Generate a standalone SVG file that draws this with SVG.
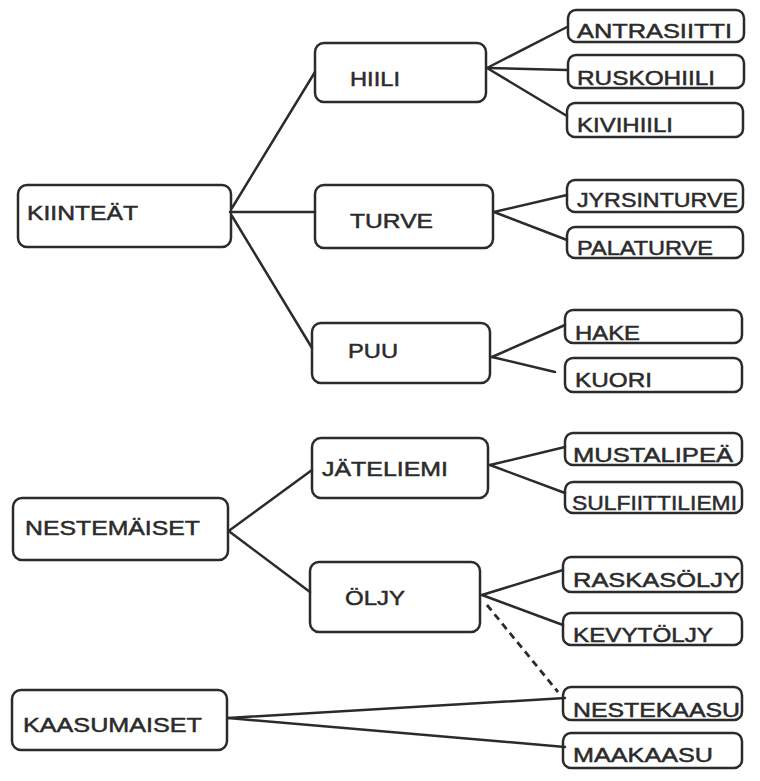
<svg xmlns="http://www.w3.org/2000/svg" width="760" height="781" viewBox="0 0 760 781">
<style>
.b{fill:none;stroke:#2b2b2b;stroke-width:2.5}
.c{fill:none;stroke:#2b2b2b;stroke-width:2.5;stroke-linecap:round}
.d{fill:none;stroke:#2b2b2b;stroke-width:2.8;stroke-dasharray:7 5}
text{font-family:"Liberation Sans",Arial,sans-serif;font-size:21px;fill:#2b2b2b;stroke:#2b2b2b;stroke-width:0.5}
</style>
<rect width="760" height="781" fill="#ffffff"/>
<g id="connectors">
<line class="c" x1="232" y1="208" x2="315" y2="72"/>
<line class="c" x1="230" y1="212" x2="315" y2="212"/>
<line class="c" x1="232" y1="216" x2="312" y2="348"/>
<line class="c" x1="487" y1="68" x2="567" y2="27"/>
<line class="c" x1="487" y1="68" x2="567" y2="70"/>
<line class="c" x1="487" y1="68" x2="567" y2="116"/>
<line class="c" x1="494" y1="212" x2="567" y2="195"/>
<line class="c" x1="494" y1="212" x2="567" y2="240"/>
<line class="c" x1="492" y1="357" x2="565" y2="325"/>
<line class="c" x1="492" y1="357" x2="555" y2="372"/>
<line class="c" x1="490" y1="465" x2="565" y2="447"/>
<line class="c" x1="490" y1="465" x2="565" y2="493"/>
<line class="c" x1="230" y1="530" x2="312" y2="470"/>
<line class="c" x1="230" y1="532" x2="310" y2="592"/>
<line class="c" x1="482" y1="595" x2="563" y2="570"/>
<line class="c" x1="482" y1="595" x2="563" y2="625"/>
<line class="d" x1="487" y1="605" x2="558" y2="692"/>
<line class="c" x1="228" y1="718" x2="565" y2="698"/>
<line class="c" x1="228" y1="718" x2="565" y2="747"/>
</g>
<g id="n-kiinteat"><rect class="b" x="18" y="185" width="213" height="62" rx="9"/><text x="27" y="220" textLength="111" lengthAdjust="spacingAndGlyphs">KIINTEÄT</text></g>
<g id="n-hiili"><rect class="b" x="315" y="43" width="171" height="59" rx="9"/><text x="350" y="86" textLength="50" lengthAdjust="spacingAndGlyphs">HIILI</text></g>
<g id="n-turve"><rect class="b" x="315" y="185" width="178" height="63" rx="9"/><text x="350" y="228" textLength="83" lengthAdjust="spacingAndGlyphs">TURVE</text></g>
<g id="n-puu"><rect class="b" x="312" y="323" width="178" height="60" rx="9"/><text x="348" y="358" textLength="50" lengthAdjust="spacingAndGlyphs">PUU</text></g>
<g id="n-antrasiitti"><rect class="b" x="568" y="10" width="176" height="32" rx="8"/><text x="577" y="38" textLength="155" lengthAdjust="spacingAndGlyphs">ANTRASIITTI</text></g>
<g id="n-ruskohiili"><rect class="b" x="568" y="55" width="176" height="33" rx="8"/><text x="577" y="85" textLength="138" lengthAdjust="spacingAndGlyphs">RUSKOHIILI</text></g>
<g id="n-kivihiili"><rect class="b" x="567" y="103" width="176" height="34" rx="8"/><text x="577" y="132" textLength="96" lengthAdjust="spacingAndGlyphs">KIVIHIILI</text></g>
<g id="n-jyrsinturve"><rect class="b" x="567" y="180" width="176" height="32" rx="8"/><text x="577" y="207" textLength="161" lengthAdjust="spacingAndGlyphs">JYRSINTURVE</text></g>
<g id="n-palaturve"><rect class="b" x="567" y="227" width="176" height="31" rx="8"/><text x="577" y="255" textLength="136" lengthAdjust="spacingAndGlyphs">PALATURVE</text></g>
<g id="n-hake"><rect class="b" x="565" y="310" width="177" height="33" rx="8"/><text x="575" y="340" textLength="65" lengthAdjust="spacingAndGlyphs">HAKE</text></g>
<g id="n-kuori"><rect class="b" x="565" y="358" width="177" height="34" rx="8"/><text x="575" y="387" textLength="77" lengthAdjust="spacingAndGlyphs">KUORI</text></g>
<g id="n-nestemaiset"><rect class="b" x="13" y="498" width="215" height="62" rx="9"/><text x="25" y="535" textLength="175" lengthAdjust="spacingAndGlyphs">NESTEMÄISET</text></g>
<g id="n-jateliemi"><rect class="b" x="312" y="438" width="176" height="60" rx="9"/><text x="322" y="476" textLength="126" lengthAdjust="spacingAndGlyphs">JÄTELIEMI</text></g>
<g id="n-oljy"><rect class="b" x="310" y="562" width="170" height="70" rx="9"/><text x="345" y="605" textLength="60" lengthAdjust="spacingAndGlyphs">ÖLJY</text></g>
<g id="n-mustalipea"><rect class="b" x="565" y="433" width="177" height="32" rx="8"/><text x="573" y="462" textLength="160" lengthAdjust="spacingAndGlyphs">MUSTALIPEÄ</text></g>
<g id="n-sulfiittiliemi"><rect class="b" x="565" y="482" width="177" height="31" rx="8"/><text x="572" y="510" textLength="165" lengthAdjust="spacingAndGlyphs">SULFIITTILIEMI</text></g>
<g id="n-raskasoljy"><rect class="b" x="563" y="557" width="179" height="35" rx="8"/><text x="573" y="587" textLength="167" lengthAdjust="spacingAndGlyphs">RASKASÖLJY</text></g>
<g id="n-kevytoljy"><rect class="b" x="563" y="613" width="179" height="32" rx="8"/><text x="573" y="642" textLength="140" lengthAdjust="spacingAndGlyphs">KEVYTÖLJY</text></g>
<g id="n-kaasumaiset"><rect class="b" x="12" y="690" width="215" height="60" rx="9"/><text x="23" y="732" textLength="179" lengthAdjust="spacingAndGlyphs">KAASUMAISET</text></g>
<g id="n-nestekaasu"><rect class="b" x="563" y="687" width="179" height="33" rx="8"/><text x="573" y="717" textLength="167" lengthAdjust="spacingAndGlyphs">NESTEKAASU</text></g>
<g id="n-maakaasu"><rect class="b" x="563" y="733" width="179" height="35" rx="8"/><text x="573" y="762" textLength="140" lengthAdjust="spacingAndGlyphs">MAAKAASU</text></g>
</svg>
